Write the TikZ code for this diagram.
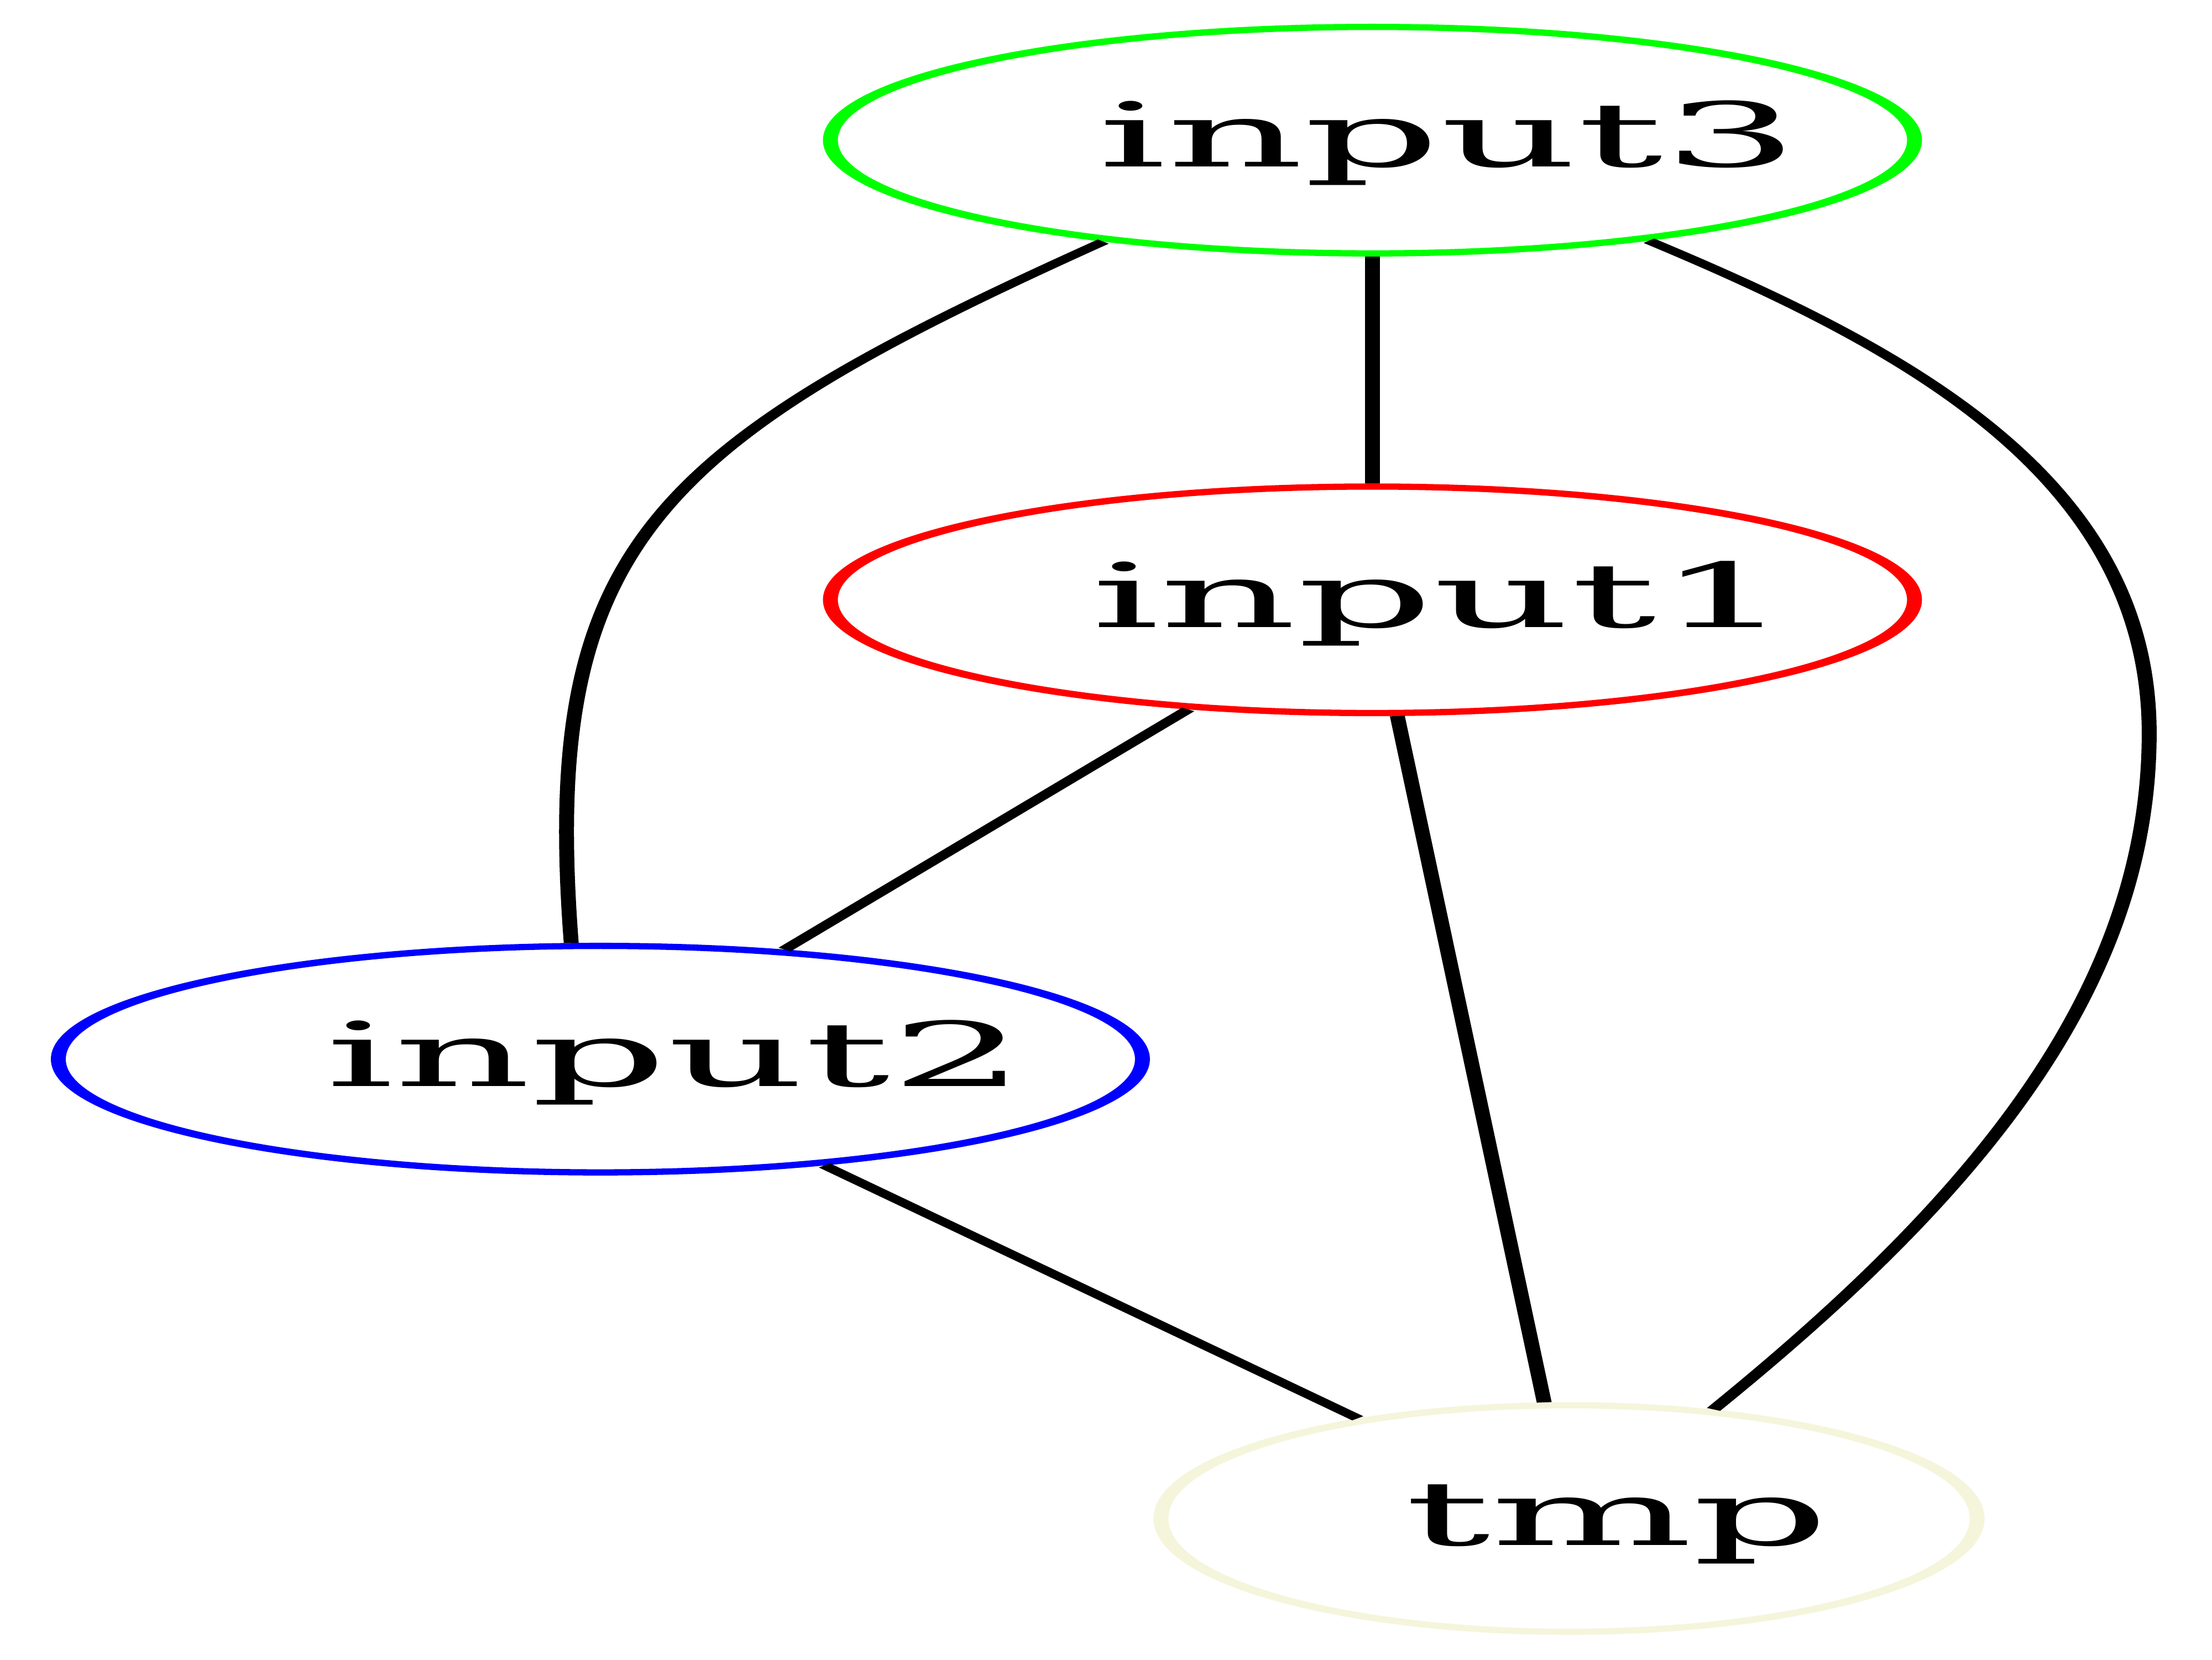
\documentclass[tikz,border=0pt]{standalone}
\usepackage{fontspec}
\newfontfamily\lblfont{DejaVu Serif}
\usetikzlibrary{shapes.geometric}
\definecolor{gvgreen}{RGB}{0,255,0}
\definecolor{gvred}{RGB}{255,0,0}
\definecolor{gvblue}{RGB}{0,0,255}
\definecolor{gvbeige}{HTML}{F5F5DC}
\begin{document}
\begin{tikzpicture}
\useasboundingbox (0pt,0pt) rectangle (1562.9pt,-1172.3pt);
\begin{scope}[transform canvas={xscale=2.39}, x={(0.41841pt,0pt)}, y={(0pt,-1pt)},
  vert/.style={ellipse, draw, line width=4.41pt, inner sep=0pt, minimum height=160pt, minimum width=320.5pt},
  lbl/.style={anchor=base, inner sep=0pt, font=\lblfont\fontsize{63}{63}\selectfont},
  link/.style={line width=4.41pt, black}]
  % nodes
  \node[vert, draw=gvgreen] (n3) at (969.7,99) {};
  \node[vert, draw=gvred]   (n1) at (969.7,423.7) {};
  \node[vert, draw=gvblue]  (n2) at (424.2,748.2) {};
  \node[vert, draw=gvbeige, minimum width=241.3pt] (tmp) at (1108.6,1072.7) {};
  % labels
  \node[lbl] (t3) at (1023.5,117.9) {input3};
  \node[lbl] (t1) at (1018.7,443) {input1};
  \node[lbl] (t2) at (477.6,767.2) {input2};
  \node[lbl] (tt) at (1142.6,1091.5) {tmp};
  % connectors
  \coordinate (m) at (1518.5,518);
  \draw[link] (n3) -- (n1);
  \draw[link] (n1) -- (n2);
  \draw[link] (n1) -- (tmp);
  \draw[link] (n2) -- (tmp);
  \draw[link] (n3.222) .. controls (460.5,314.3) and (382.1,385.2) .. (n2.96.2);
  \draw[link] (n3.319.1) .. controls (1348.5,246.6) and (1518.5,338) .. (m)
                         .. controls (1518.5,700) and (1394,847) .. (tmp.61.5);
\end{scope}
\end{tikzpicture}
\end{document}
